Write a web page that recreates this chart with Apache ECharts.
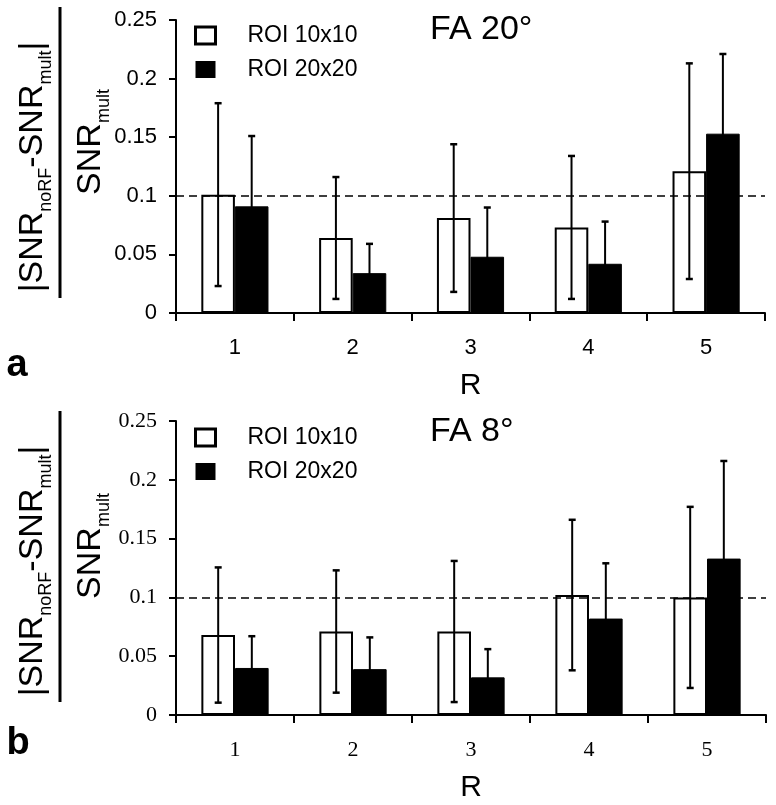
<!DOCTYPE html>
<html><head><meta charset="utf-8">
<script src="https://cdn.jsdelivr.net/npm/echarts@6/dist/echarts.min.js"></script>
<style>html,body{margin:0;padding:0;background:#fff}#c{width:776px;height:805px}</style>
</head><body><div id="c"></div>
<script>
const categories = ['1', '2', '3', '4', '5'];
const fa20Roi10 = [0.101, 0.064, 0.081, 0.073, 0.121];
const fa20Roi10Err = [0.078, 0.052, 0.063, 0.061, 0.092];
const fa20Roi20 = [0.091, 0.034, 0.048, 0.042, 0.153];
const fa20Roi20Err = [0.060, 0.025, 0.042, 0.036, 0.068];
const fa8Roi10 = [0.068, 0.071, 0.071, 0.102, 0.100];
const fa8Roi10Err = [0.0575, 0.052, 0.060, 0.064, 0.077];
const fa8Roi20 = [0.040, 0.039, 0.032, 0.082, 0.133];
const fa8Roi20Err = [0.027, 0.027, 0.024, 0.047, 0.083];
const yTicks = [0, 0.05, 0.1, 0.15, 0.2, 0.25];
const refLevel = 0.1;
const seriesNames = ['ROI 10x10', 'ROI 20x20'];
const panelTitles = ['FA 20°', 'FA 8°'];
const panelLetters = ['a', 'b'];
const xName = 'R';

const SANS = '"Liberation Sans", Arial, sans-serif';
const SERIF = '"Liberation Serif", "DejaVu Serif", serif';
const chart = echarts.init(document.getElementById('c'), null, {renderer: 'canvas'});

function xAxis(gi, font) {
  return {
    type: 'category', gridIndex: gi, data: categories,
    name: xName, nameLocation: 'middle', nameGap: 58,
    nameTextStyle: {fontFamily: SANS, fontSize: 30, color: '#000'},
    axisLine: {lineStyle: {color: '#000', width: 2}},
    axisTick: {show: true, length: 8, lineStyle: {color: '#000', width: 2}},
    axisLabel: {fontFamily: font, fontSize: 22, color: '#000', margin: 24},
    splitLine: {show: false}
  };
}
function yAxis(gi, font) {
  return {
    type: 'value', gridIndex: gi,
    min: yTicks[0], max: yTicks[yTicks.length - 1], interval: yTicks[1] - yTicks[0],
    axisLine: {show: true, lineStyle: {color: '#000', width: 2}},
    axisTick: {show: true, length: 7, lineStyle: {color: '#000', width: 2}},
    axisLabel: {fontFamily: font, fontSize: 22, color: '#000', margin: 19},
    splitLine: {show: false}
  };
}
function barSeries(gi, name, vals, white) {
  const s = {
    type: 'bar', name: name, xAxisIndex: gi, yAxisIndex: gi, data: vals,
    barWidth: '28.5%', barGap: '0%',
    itemStyle: white ? {color: '#fff', borderColor: '#000', borderWidth: 2} : {color: '#000', borderColor: '#000', borderWidth: 1},
    silent: true
  };
  if (white) {
    s.markLine = {
      silent: true, symbol: ['none', 'none'], label: {show: false},
      lineStyle: {color: '#000', type: [8, 5], width: 1.5},
      data: [{yAxis: refLevel}]
    };
  }
  return s;
}
function errSeries(gi, vals, errs, side) {
  return {
    type: 'custom', xAxisIndex: gi, yAxisIndex: gi, z: 6, silent: true,
    data: vals.map((v, i) => [i, v, errs[i]]),
    encode: {x: 0, y: 1},
    renderItem: (params, api) => {
      const i = api.value(0), v = api.value(1), e = api.value(2);
      const band = api.size([1, 0])[0];
      const c = api.coord([i, v]);
      const x = c[0] + side * 0.1425 * band;
      const yt = api.coord([i, v + e])[1];
      const yb = api.coord([i, v - e])[1];
      const hw = 3.5;
      const st = {stroke: '#000', lineWidth: 2};
      return {type: 'group', children: [
        {type: 'line', shape: {x1: x, y1: yt, x2: x, y2: yb}, style: st},
        {type: 'line', shape: {x1: x - hw, y1: yt, x2: x + hw, y2: yt}, style: {stroke: '#000', lineWidth: 2.5}},
        {type: 'line', shape: {x1: x - hw, y1: yb, x2: x + hw, y2: yb}, style: {stroke: '#000', lineWidth: 2.5}}
      ]};
    }
  };
}
function legend(top) {
  return {
    left: 194, top: top, orient: 'vertical', padding: 0,
    itemWidth: 20, itemHeight: 17, itemGap: 11, selectedMode: false,
    icon: 'rect',
    data: [
      {name: seriesNames[0], itemStyle: {color: '#fff', borderColor: '#000', borderWidth: 3}},
      {name: seriesNames[1], itemStyle: {color: '#000', borderColor: '#000', borderWidth: 0}}
    ],
    textStyle: {fontFamily: SANS, fontSize: 23, color: '#000', padding: [0, 0, 0, 27]}
  };
}
const richM = {fontFamily: SANS, fontSize: 34, lineHeight: 44, color: '#000', verticalAlign: 'middle'};
const richS = {fontFamily: SANS, fontSize: 18, lineHeight: 18, color: '#000', verticalAlign: 'bottom'};
function fracLabel(cx, cy) {
  return {
    type: 'group', x: cx, y: cy, rotation: Math.PI / 2, silent: true,
    children: [
      {type: 'text', x: -15, y: -27, style: {text: '{m||SNR}{s|noRF}{m|-SNR}{s|mult}{m||}', align: 'center', verticalAlign: 'middle', rich: {m: richM, s: richS}}},
      {type: 'line', shape: {x1: -146, y1: 0, x2: 145, y2: 0}, style: {stroke: '#000', lineWidth: 3}},
      {type: 'text', x: 10, y: 31, style: {text: '{m|SNR}{s|mult}', align: 'center', verticalAlign: 'middle', rich: {m: richM, s: richS}}}
    ]
  };
}
const option = {
  backgroundColor: '#fff',
  animation: false,
  title: [
    {text: panelTitles[0], left: 430, top: 13, padding: 0, textStyle: {fontFamily: SANS, fontSize: 34, fontWeight: 'normal', color: '#000'}},
    {text: panelTitles[1], left: 430, top: 415, padding: 0, textStyle: {fontFamily: SANS, fontSize: 34, fontWeight: 'normal', color: '#000'}}
  ],
  legend: [legend(24), legend(426)],
  grid: [
    {left: 176, top: 20, width: 589, height: 293},
    {left: 176, top: 421, width: 590, height: 294}
  ],
  xAxis: [xAxis(0, SANS), xAxis(1, SERIF)],
  yAxis: [yAxis(0, SANS), yAxis(1, SERIF)],
  series: [
    barSeries(0, seriesNames[0], fa20Roi10, true),
    barSeries(0, seriesNames[1], fa20Roi20, false),
    errSeries(0, fa20Roi10, fa20Roi10Err, -1),
    errSeries(0, fa20Roi20, fa20Roi20Err, 1),
    barSeries(1, seriesNames[0], fa8Roi10, true),
    barSeries(1, seriesNames[1], fa8Roi20, false),
    errSeries(1, fa8Roi10, fa8Roi10Err, -1),
    errSeries(1, fa8Roi20, fa8Roi20Err, 1)
  ],
  graphic: [
    fracLabel(60, 152),
    fracLabel(60, 556),
    {type: 'text', x: 17, y: 366, style: {text: panelLetters[0], fontFamily: SANS, fontSize: 38, fontWeight: 'bold', fill: '#000', align: 'center', verticalAlign: 'middle'}},
    {type: 'text', x: 18, y: 744, style: {text: panelLetters[1], fontFamily: SANS, fontSize: 38, fontWeight: 'bold', fill: '#000', align: 'center', verticalAlign: 'middle'}}
  ]
};
chart.setOption(option);
</script>
</body></html>
